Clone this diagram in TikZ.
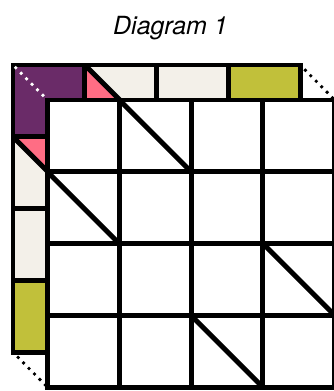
\documentclass[tikz,border=0pt]{standalone}
\usepackage{fontspec}
\setmainfont{TeX Gyre Heros}
\usetikzlibrary{calc}
\definecolor{purp}{HTML}{6A2B68}
\definecolor{pinkc}{HTML}{FF6D84}
\definecolor{creamc}{HTML}{F3F0E9}
\definecolor{olivec}{HTML}{C1C03A}
\begin{document}
\begin{tikzpicture}[x=0.75pt,y=-0.75pt,
  gridline/.style={line width=3.7pt,line join=miter},
  dotline/.style={line width=2.9pt,line cap=round,dash pattern=on 0pt off 5.8pt}]
\useasboundingbox (0,0) rectangle (334,391);
\node[font=\itshape\fontsize{18.75}{22}\selectfont,anchor=base,inner sep=0pt] (title) at (170.5,34.3) {Diagram 1};
% back face
\begin{scope}[shift={(13,65)}]
\begin{scope}[x=53.85pt,y=-53.85pt]
\coordinate (b00) at (0,0);
\coordinate (b40) at (4,0);
\coordinate (b04) at (0,4);
\fill[purp] (0,0) rectangle (1,1);
\fill[creamc] (1,0) rectangle (2,1);
\fill[pinkc] (1,0) -- (1,1) -- (2,1) -- cycle;
\fill[creamc] (2,0) rectangle (3,1);
\fill[olivec] (3,0) rectangle (4,1);
\fill[creamc] (0,1) rectangle (1,2);
\fill[pinkc] (0,1) -- (1,1) -- (1,2) -- cycle;
\fill[creamc] (0,2) rectangle (1,3);
\fill[olivec] (0,3) rectangle (1,4);
\foreach \i in {1,2,3} {\draw[gridline] (\i,0) -- (\i,4); \draw[gridline] (0,\i) -- (4,\i);}
\draw[gridline] (0,0) rectangle (4,4);
\draw[gridline] (1,0) -- (2,1);
\draw[gridline] (0,1) -- (1,2);
\end{scope}
\end{scope}
% front face
\begin{scope}[shift={(47.5,100)}]
\begin{scope}[x=53.85pt,y=-53.85pt]
\coordinate (f00) at (0,0);
\coordinate (f40) at (4,0);
\coordinate (f04) at (0,4);
\fill[white] (0,0) rectangle (4,4);
\foreach \i in {1,2,3} {\draw[gridline] (\i,0) -- (\i,4); \draw[gridline] (0,\i) -- (4,\i);}
\draw[gridline] (0,0) rectangle (4,4);
\draw[gridline] (1,0) -- (2,1);
\draw[gridline] (0,1) -- (1,2);
\draw[gridline] (3,2) -- (4,3);
\draw[gridline] (2,3) -- (3,4);
\end{scope}
\end{scope}
% connecting dotted edges
\draw[dotline,white] ($(b00)!0.08!(f00)$) -- ($(b00)!0.95!(f00)$);
\draw[dotline,black] ($(b40)!0.15!(f40)$) -- ($(b40)!0.95!(f40)$);
\draw[dotline,black] ($(b04)!0.15!(f04)$) -- ($(b04)!0.95!(f04)$);
\end{tikzpicture}
\end{document}
